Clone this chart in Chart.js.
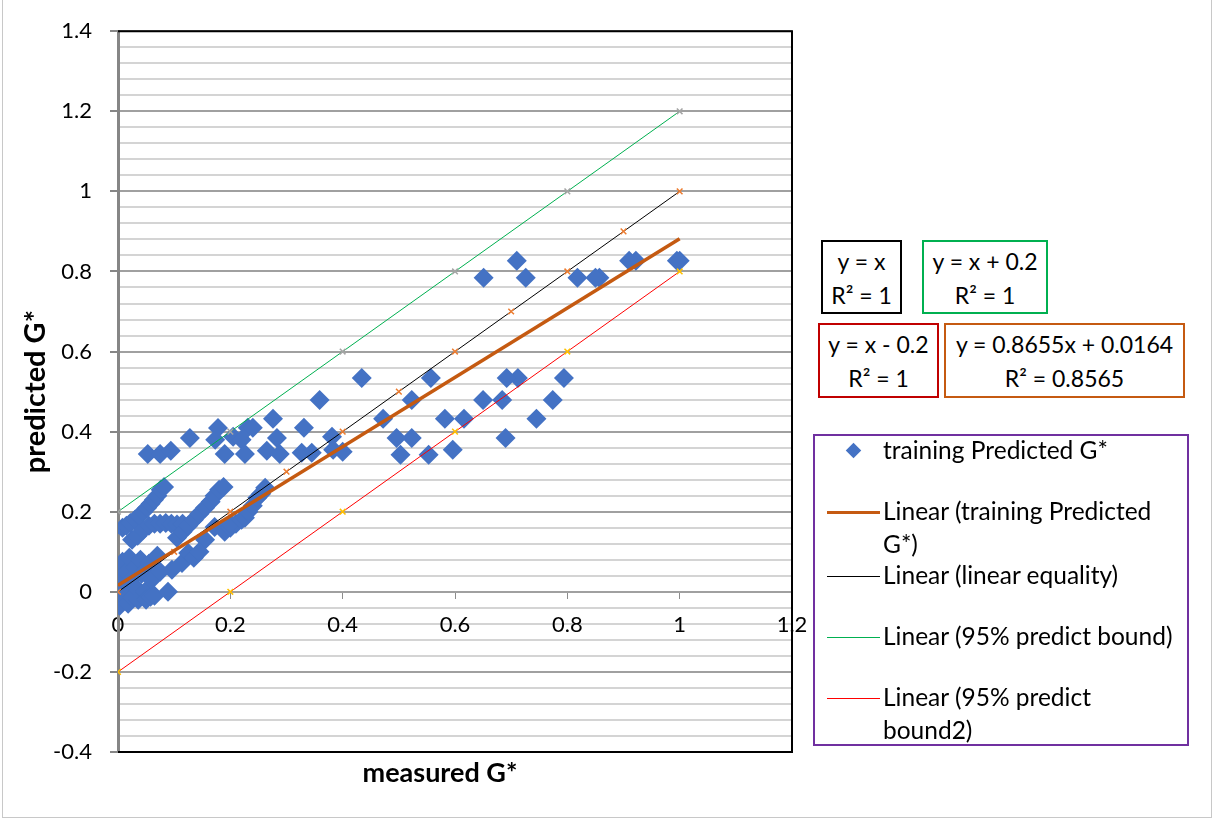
<!DOCTYPE html>
<html>
<head>
<meta charset="utf-8">
<script src="https://cdn.jsdelivr.net/npm/chart.js@4.4.1/dist/chart.umd.min.js"></script>
<style>
  html, body { margin: 0; padding: 0; background: #fff; }
  #wrap { position: relative; width: 1215px; height: 820px; font-family: Lato, "Open Sans", sans-serif; color: #000; }
  #frame { position: absolute; left: 2px; top: 0; width: 1210px; height: 818px; border: 1px solid #c8c8c8; border-top: none; box-sizing: border-box; }
  canvas { position: absolute; left: 0; top: 0; }
  .eq { position: absolute; box-sizing: border-box; border: 2px solid #000; background: #fff; text-align: center; font-size: 23px; line-height: 34px; padding-top: 2px; white-space: nowrap; }
  #xtitle { position: absolute; left: 290px; width: 300px; top: 755px; text-align: center; font-weight: bold; font-size: 27px; }
  #legend { position: absolute; left: 813px; top: 434px; width: 376px; height: 312px; box-sizing: border-box; border: 2px solid #7030A0; background: #fff; }
  .lg { position: absolute; left: 68px; font-size: 24.5px; line-height: 33px; white-space: nowrap; }
  .sw { position: absolute; left: 12px; width: 53px; }
  .dia { position: absolute; left: 33px; width: 11px; height: 11px; background: #4472C4; transform: rotate(45deg); }
</style>
</head>
<body>
<div id="wrap">
  <div id="frame"></div>
  <canvas id="c" width="1215" height="820"></canvas>
  <div id="xtitle">measured G*</div>

  <div class="eq" style="left:821px; top:240px; width:81px; height:74px;">y = x<br>R² = 1</div>
  <div class="eq" style="left:922px; top:240px; width:126px; height:74px; border-color:#00B050;">y = x + 0.2<br>R² = 1</div>
  <div class="eq" style="left:818px; top:323px; width:121px; height:75px; border-color:#C00000;">y = x - 0.2<br>R² = 1</div>
  <div class="eq" style="left:944px; top:323px; width:241px; height:75px; border-color:#C55A11;">y = 0.8655x + 0.0164<br>R² = 0.8565</div>

  <div id="legend">
    <div class="dia" style="top:9px;"></div>
    <div class="lg" style="top:-3px;">training Predicted G*</div>
    <div class="sw" style="top:75px; height:3px; background:#C55A11;"></div>
    <div class="lg" style="top:58px;">Linear (training Predicted<br>G*)</div>
    <div class="sw" style="top:140px; height:1px; background:#000;"></div>
    <div class="lg" style="top:122px;">Linear (linear equality)</div>
    <div class="sw" style="top:201px; height:1px; background:#00B050;"></div>
    <div class="lg" style="top:183px;">Linear (95% predict bound)</div>
    <div class="sw" style="top:262px; height:1px; background:#FF0000;"></div>
    <div class="lg" style="top:244px;">Linear (95% predict<br>bound2)</div>
  </div>
</div>
<script>
// measured vs predicted G* for the training set
const measuredG = [
  1.0, 0.995, 0.922, 0.910, 0.857, 0.850, 0.818, 0.726, 0.710, 0.651,
  0.794, 0.712, 0.692, 0.557, 0.434,
  0.774, 0.684, 0.650, 0.523, 0.359,
  0.745, 0.616, 0.582, 0.472,
  0.690, 0.523, 0.496, 0.381, 0.331,
  0.596, 0.553, 0.503, 0.400, 0.383, 0.345, 0.327,
  0.053, 0.075, 0.094, 0.128, 0.173, 0.178, 0.190, 0.205, 0.220, 0.226, 0.231, 0.240, 0.265, 0.276, 0.283, 0.288,
  0.008, 0.015, 0.022, 0.030, 0.038, 0.045, 0.052, 0.058, 0.064, 0.070, 0.076, 0.082,
  0.025, 0.035, 0.045, 0.055, 0.065, 0.075, 0.085, 0.095, 0.105, 0.115,
  0.105, 0.115, 0.125, 0.135, 0.145, 0.155, 0.165, 0.172, 0.180, 0.188,
  0.155, 0.172, 0.190, 0.200, 0.210,
  0.200, 0.220, 0.226, 0.232, 0.240, 0.248, 0.255, 0.262,
  0.096, 0.114, 0.125, 0.135, 0.145,
  0.000, 0.000, 0.000, 0.000, 0.003, 0.006, 0.008, 0.010, 0.012, 0.015, 0.018, 0.020, 0.022, 0.025,
  0.030, 0.032, 0.036, 0.040, 0.042, 0.048, 0.050, 0.055, 0.058, 0.060, 0.065, 0.070, 0.075, 0.089
];
const predictedG = [
  0.827, 0.827, 0.827, 0.827, 0.784, 0.784, 0.784, 0.784, 0.827, 0.784,
  0.534, 0.534, 0.534, 0.534, 0.534,
  0.479, 0.479, 0.479, 0.479, 0.479,
  0.432, 0.432, 0.432, 0.432,
  0.384, 0.384, 0.384, 0.387, 0.410,
  0.355, 0.342, 0.342, 0.350, 0.355, 0.347, 0.347,
  0.344, 0.344, 0.352, 0.384, 0.380, 0.409, 0.344, 0.387, 0.380, 0.344, 0.410, 0.410, 0.352, 0.432, 0.384, 0.344,
  0.160, 0.165, 0.172, 0.180, 0.190, 0.200, 0.210, 0.220, 0.230, 0.240, 0.255, 0.262,
  0.130, 0.140, 0.155, 0.165, 0.170, 0.170, 0.172, 0.170, 0.168, 0.170,
  0.135, 0.150, 0.165, 0.180, 0.195, 0.210, 0.225, 0.240, 0.255, 0.262,
  0.130, 0.162, 0.150, 0.160, 0.170,
  0.170, 0.180, 0.185, 0.200, 0.215, 0.235, 0.245, 0.260,
  0.055, 0.072, 0.097, 0.085, 0.100,
  0.000, 0.020, -0.020, 0.050, -0.035, 0.035, 0.075, -0.010, 0.010, 0.050, -0.030, 0.085, 0.030, -0.015,
  0.060, 0.010, -0.020, 0.080, 0.045, 0.000, -0.020, 0.070, -0.012, 0.030, -0.010, 0.090, 0.050, 0.000
];

// reference lines and their marker points
const equalityX = [0, 0.1, 0.2, 0.3, 0.4, 0.5, 0.6, 0.7, 0.8, 0.9, 1.0];
const equalityY = [0, 0.1, 0.2, 0.3, 0.4, 0.5, 0.6, 0.7, 0.8, 0.9, 1.0];
const upperBoundX = [0, 0.2, 0.4, 0.6, 0.8, 1.0];
const upperBoundY = [0.2, 0.4, 0.6, 0.8, 1.0, 1.2];
const lowerBoundX = [0, 0.2, 0.4, 0.6, 0.8, 1.0];
const lowerBoundY = [-0.2, 0, 0.2, 0.4, 0.6, 0.8];

// fitted trend line: y = 0.8655x + 0.0164
const trendSlope = 0.8655;
const trendIntercept = 0.0164;
const trendX = [0, 1.0];

const yTicks = [-0.4, -0.2, 0, 0.2, 0.4, 0.6, 0.8, 1, 1.2, 1.4];
const xTicks = [0, 0.2, 0.4, 0.6, 0.8, 1, 1.2];

const pairs = (xs, ys) => xs.map((x, i) => ({ x, y: ys[i] }));
const isMajorY = v => yTicks.some(t => Math.abs(t - v) < 1e-6);

const frameBorder = {
  id: 'frameBorder',
  afterDatasetsDraw(chart) {
    const { ctx, chartArea: a } = chart;
    ctx.save();
    ctx.strokeStyle = '#000';
    ctx.lineWidth = 2;
    ctx.beginPath();
    ctx.moveTo(a.left, a.top);
    ctx.lineTo(a.right, a.top);
    ctx.lineTo(a.right, a.bottom);
    ctx.lineTo(a.left, a.bottom);
    ctx.stroke();
    ctx.restore();
  }
};

const FONT = 'Lato, "Open Sans", sans-serif';

new Chart(document.getElementById('c'), {
  type: 'scatter',
  data: {
    datasets: [
      {
        label: 'training Predicted G*',
        data: pairs(measuredG, predictedG),
        pointStyle: 'rectRot',
        pointRadius: 10,
        pointHoverRadius: 10,
        backgroundColor: '#4472C4',
        borderColor: '#4472C4',
        borderWidth: 0,
        order: 10
      },
      {
        label: 'Linear (training Predicted G*)',
        type: 'line',
        data: trendX.map(x => ({ x, y: trendSlope * x + trendIntercept })),
        borderColor: '#C55A11',
        borderWidth: 3.5,
        pointRadius: 0,
        order: 1
      },
      {
        label: 'Linear (linear equality)',
        type: 'line',
        data: pairs(equalityX, equalityY),
        borderColor: '#000000',
        borderWidth: 1,
        pointStyle: 'crossRot',
        pointRadius: 4,
        pointBorderColor: '#ED7D31',
        pointBorderWidth: 1.5,
        order: 2
      },
      {
        label: 'Linear (95% predict bound)',
        type: 'line',
        data: pairs(upperBoundX, upperBoundY),
        borderColor: '#00B050',
        borderWidth: 1,
        pointStyle: 'crossRot',
        pointRadius: 4,
        pointBorderColor: '#A5A5A5',
        pointBorderWidth: 1.5,
        order: 3
      },
      {
        label: 'Linear (95% predict bound2)',
        type: 'line',
        data: pairs(lowerBoundX, lowerBoundY),
        borderColor: '#FF0000',
        borderWidth: 1,
        pointStyle: 'crossRot',
        pointRadius: 4,
        pointBorderColor: '#FFC000',
        pointBorderWidth: 1.5,
        order: 4
      }
    ]
  },
  options: {
    responsive: false,
    animation: false,
    events: [],
    layout: { padding: { left: 0, top: 31, right: 423, bottom: 68 } },
    plugins: { legend: { display: false }, tooltip: { enabled: false } },
    scales: {
      x: {
        type: 'linear',
        position: { y: 0 },
        min: 0,
        max: 1.2,
        ticks: {
          stepSize: 0.2,
          autoSkip: false,
          maxRotation: 0,
          padding: 13,
          color: '#000',
          font: { family: FONT, size: 22 },
          callback: v => xTicks.some(t => Math.abs(t - v) < 1e-6) ? String(+v.toFixed(2)) : ''
        },
        grid: { drawOnChartArea: false, drawTicks: true, tickLength: 7, color: '#8c8c8c', lineWidth: 1 },
        border: { display: false }
      },
      y: {
        type: 'linear',
        min: -0.4,
        max: 1.4,
        afterFit: s => { s.width = 118; },
        ticks: {
          stepSize: 0.04,
          autoSkip: false,
          padding: 18,
          color: '#000',
          font: { family: FONT, size: 22 },
          callback: v => isMajorY(v) ? String(+v.toFixed(2)) : ''
        },
        grid: {
          color: c => isMajorY(c.tick.value) ? '#a0a0a0' : '#d4d4d4',
          lineWidth: 2,
          tickLength: 8,
          tickColor: c => isMajorY(c.tick.value) ? '#868686' : 'rgba(0,0,0,0)'
        },
        border: { display: true, color: '#868686', width: 3 },
        title: {
          display: true,
          text: 'predicted G*',
          color: '#000',
          font: { family: FONT, size: 29, weight: 'bold' },
          padding: { top: 18, bottom: 0 }
        }
      }
    }
  },
  plugins: [frameBorder]
});
</script>
</body>
</html>
